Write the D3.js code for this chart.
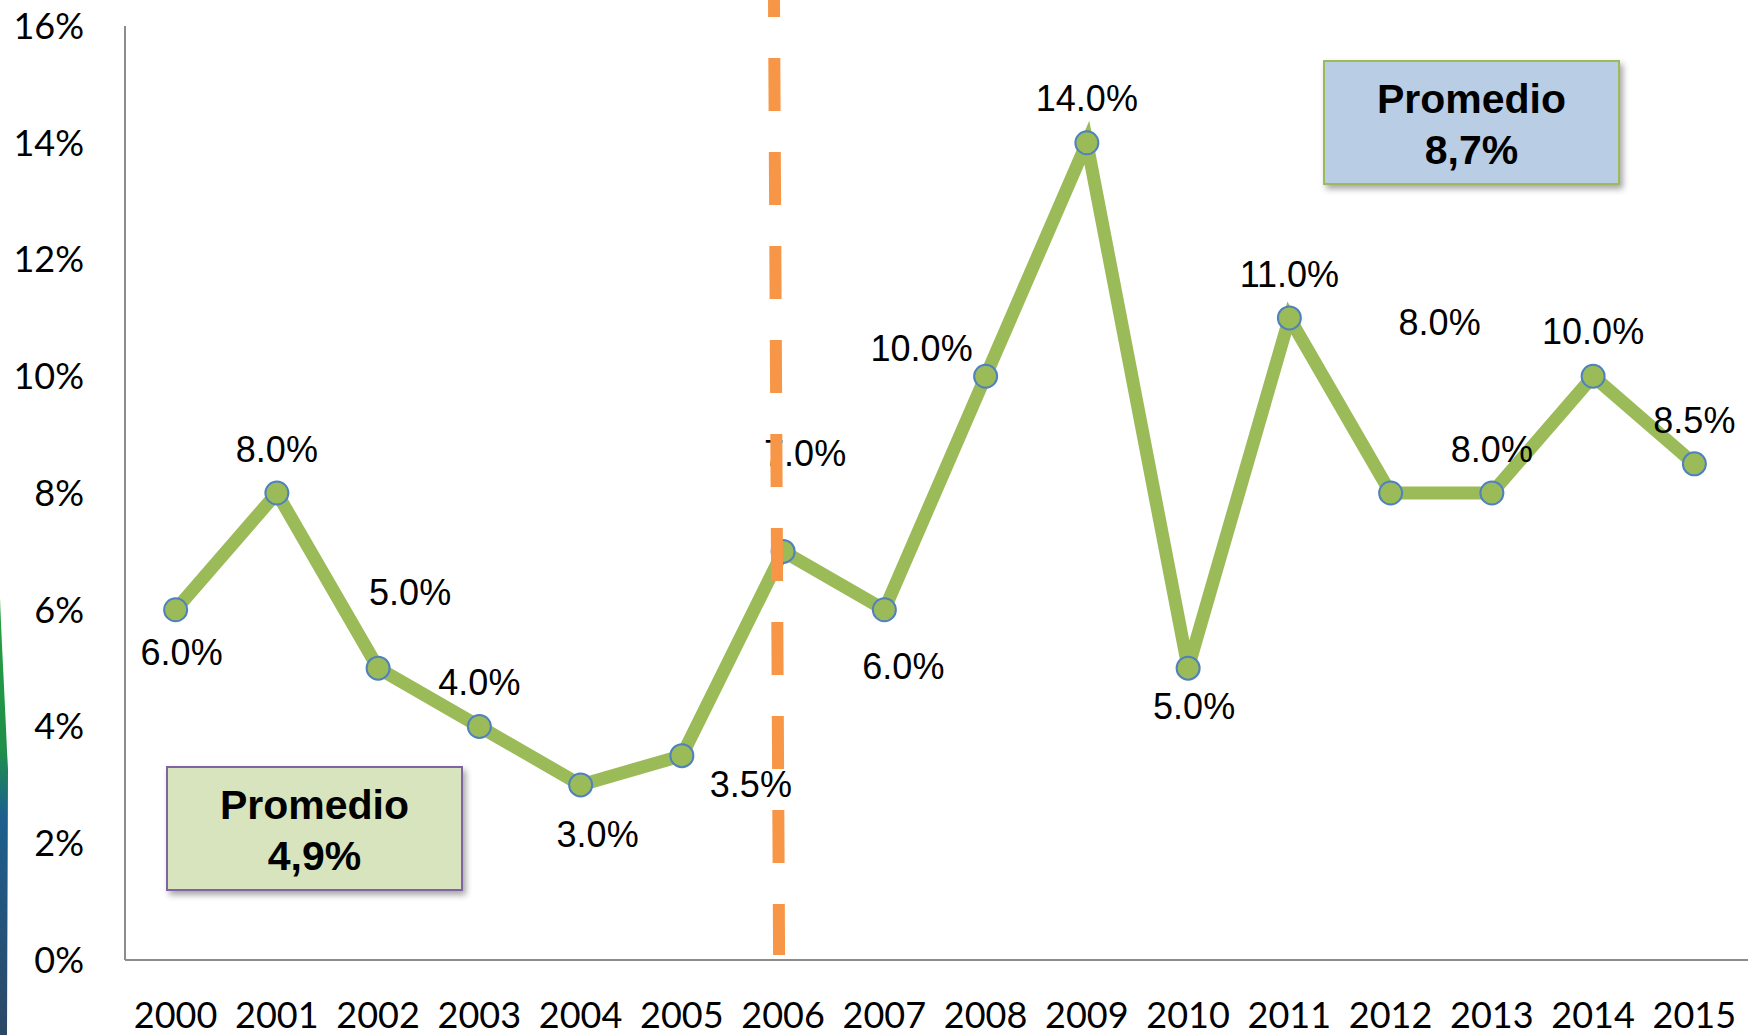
<!DOCTYPE html>
<html>
<head>
<meta charset="utf-8">
<script src="https://cdn.jsdelivr.net/npm/d3@7"></script>
<style>
  html, body { margin: 0; padding: 0; background: #fff; }
  svg { display: block; }
</style>
</head>
<body>
<div id="chart"></div>
<script>
// ---------- Data ----------
const years = ["2000", "2001", "2002", "2003", "2004", "2005", "2006", "2007",
  "2008", "2009", "2010", "2011", "2012", "2013", "2014", "2015"];
const growth = [6.0, 8.0, 5.0, 4.0, 3.0, 3.5, 7.0, 6.0, 10.0, 14.0, 5.0, 11.0, 8.0, 8.0, 10.0, 8.5];
const yTicks = [0, 2, 4, 6, 8, 10, 12, 14, 16];
const averages = [
  { label: "Promedio", value: "4,9%" },
  { label: "Promedio", value: "8,7%" },
];

// label offsets (px) relative to each point, as placed in the original
const labelDx = [6, 0, 32, 0, 17, 69, 22, 19, -64, 0, 6, 0, 49, 0, 0, 0];
const labelDy = [42, -44, -76, -44, 49, 28, -98, 56, -28, -45, 38, -44, -171, -44, -45, -44];

const W = 1748, H = 1035;
const svg = d3.select("#chart").append("svg").attr("width", W).attr("height", H);

const defs = svg.append("defs");
const grad = defs.append("linearGradient").attr("id", "edge")
  .attr("x1", 0).attr("y1", 0).attr("x2", 0).attr("y2", 1);
grad.append("stop").attr("offset", "0%").attr("stop-color", "#2aa040");
grad.append("stop").attr("offset", "35%").attr("stop-color", "#1f8f4a");
grad.append("stop").attr("offset", "50%").attr("stop-color", "#1c5f8e");
grad.append("stop").attr("offset", "100%").attr("stop-color", "#2c4866");

const shadow = defs.append("filter").attr("id", "shadow")
  .attr("x", "-10%").attr("y", "-10%").attr("width", "130%").attr("height", "140%");
shadow.append("feDropShadow").attr("dx", 3).attr("dy", 4)
  .attr("stdDeviation", 3).attr("flood-color", "#000").attr("flood-opacity", 0.35);

// decorative slide edge on the left
svg.append("path")
  .attr("d", "M0,598 C2,650 5,700 8,770 L7,1035 L0,1035 Z")
  .attr("fill", "url(#edge)");

// ---------- Scales ----------
const x = d3.scalePoint().domain(years).range([125, 1745]).padding(0.5);
const y = d3.scaleLinear().domain([0, 16]).range([960, 26]);

// ---------- Axes ----------
svg.append("line")
  .attr("x1", 125).attr("x2", 125).attr("y1", y(16)).attr("y2", y(0))
  .attr("stroke", "#8c8c8c").attr("stroke-width", 2);
svg.append("line")
  .attr("x1", 125).attr("x2", W).attr("y1", y(0)).attr("y2", y(0))
  .attr("stroke", "#8c8c8c").attr("stroke-width", 2);

svg.append("g").selectAll("text")
  .data(yTicks).enter().append("text")
  .attr("x", 84).attr("y", (d) => y(d))
  .attr("dy", "0.36em")
  .attr("text-anchor", "end")
  .attr("font-family", "Lato, 'Open Sans', sans-serif")
  .attr("font-size", 36)
  .attr("fill", "#000")
  .text((d) => d + "%");

svg.append("g").selectAll("text")
  .data(years).enter().append("text")
  .attr("x", (d) => x(d)).attr("y", 1028)
  .attr("text-anchor", "middle")
  .attr("font-family", "Lato, 'Open Sans', sans-serif")
  .attr("font-size", 36)
  .attr("fill", "#000")
  .text((d) => d);

// ---------- Line ----------
const pts = years.map((yr, i) => ({ yr, v: growth[i], i }));
svg.append("path")
  .datum(pts)
  .attr("fill", "none")
  .attr("stroke", "#9bbb59")
  .attr("stroke-width", 13)
  .attr("stroke-linejoin", "miter")
  .attr("d", d3.line().x((d) => x(d.yr)).y((d) => y(d.v)));

svg.append("g").selectAll("circle")
  .data(pts).enter().append("circle")
  .attr("cx", (d) => x(d.yr)).attr("cy", (d) => y(d.v))
  .attr("r", 11.5)
  .attr("fill", "#9bbb59")
  .attr("stroke", "#4f81bd")
  .attr("stroke-width", 2);

// ---------- Data labels ----------
svg.append("g").selectAll("text")
  .data(pts).enter().append("text")
  .attr("x", (d) => x(d.yr) + labelDx[d.i])
  .attr("y", (d) => y(d.v) + labelDy[d.i])
  .attr("dy", "0.36em")
  .attr("text-anchor", "middle")
  .attr("font-family", "'Liberation Sans', Arial, sans-serif")
  .attr("font-size", 36)
  .attr("fill", "#000")
  .text((d) => d.v.toFixed(1) + "%");

// ---------- Divider (dashed) ----------
const step = x.step();
svg.append("line")
  .attr("x1", x("2006") - step * 0.09).attr("y1", 0)
  .attr("x2", x("2006") - step * 0.04).attr("y2", 955)
  .attr("stroke", "#f79646")
  .attr("stroke-width", 12)
  .attr("stroke-dasharray", "53 41")
  .attr("stroke-dashoffset", 36);

// ---------- Average boxes ----------
const boxes = [
  { x0: 167, y0: 767, w: 295, h: 123, fill: "#d7e4bd", stroke: "#8064a2" },
  { x0: 1324, y0: 61, w: 295, h: 123, fill: "#b9cde5", stroke: "#9bbb59" },
];
boxes.forEach((b, i) => {
  const g = svg.append("g");
  g.append("rect")
    .attr("x", b.x0).attr("y", b.y0).attr("width", b.w).attr("height", b.h)
    .attr("fill", b.fill).attr("stroke", b.stroke).attr("stroke-width", 2)
    .attr("filter", "url(#shadow)");
  const t = g.append("text")
    .attr("text-anchor", "middle")
    .attr("font-family", "'Liberation Sans', Arial, sans-serif")
    .attr("font-weight", "bold")
    .attr("font-size", 41)
    .attr("fill", "#000");
  t.append("tspan").attr("x", b.x0 + b.w / 2).attr("y", b.y0 + 52).text(averages[i].label);
  t.append("tspan").attr("x", b.x0 + b.w / 2).attr("y", b.y0 + 103).text(averages[i].value);
});
</script>
</body>
</html>
